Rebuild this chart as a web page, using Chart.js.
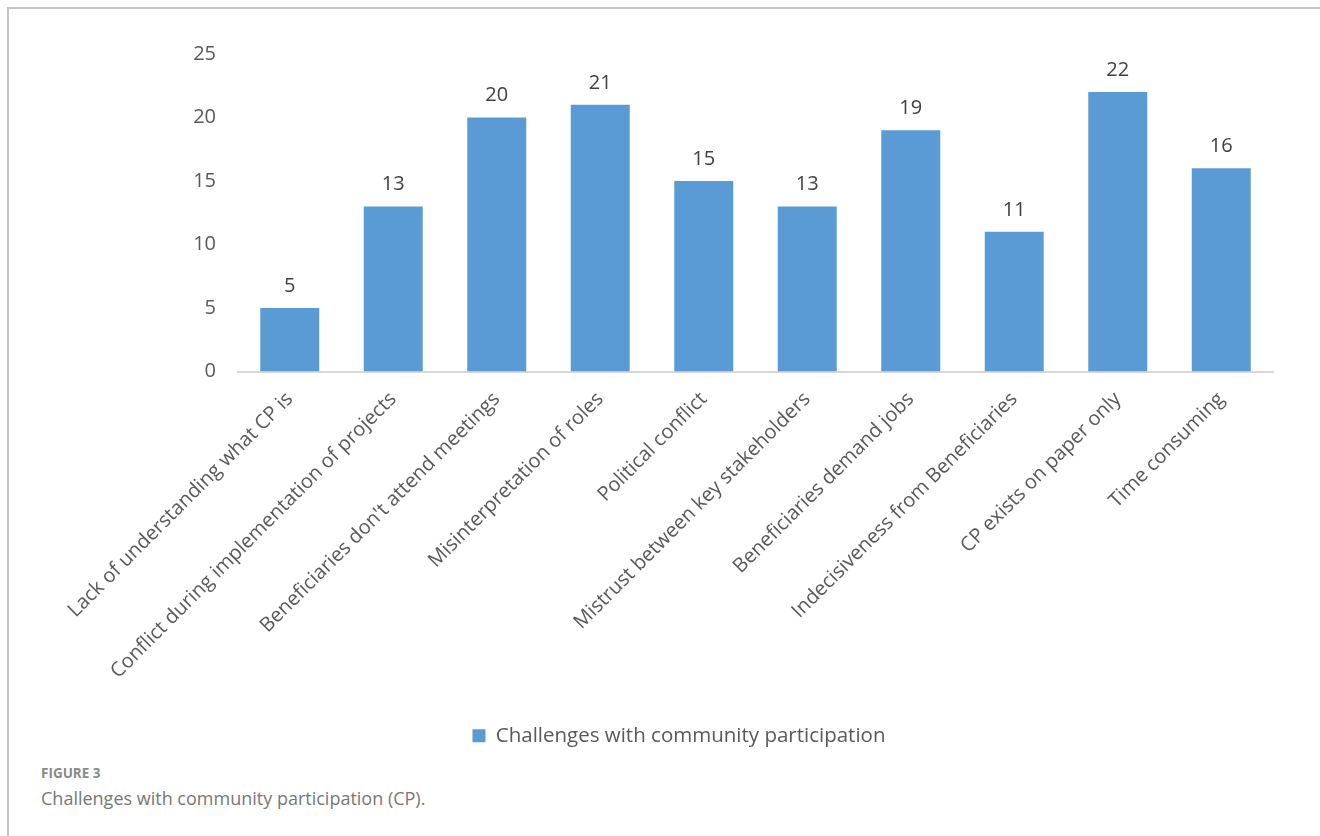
<!DOCTYPE html>
<html>
<head>
<meta charset="utf-8">
<script src="https://cdn.jsdelivr.net/npm/chart.js@4.4.0/dist/chart.umd.min.js"></script>
<style>
  html, body { margin: 0; padding: 0; background: #fff; }
  body { width: 1320px; height: 836px; overflow: hidden; position: relative; }
  .frame {
    position: absolute; left: 7px; top: 7px; width: 1320px; height: 840px;
    border-left: 2px solid #c4c4c4; border-top: 2px solid #c4c4c4;
  }
  .chart-box { position: absolute; left: 9px; top: 9px; width: 1311px; height: 750px; }
  .fig-num {
    position: absolute; left: 41px; top: 764px;
    font-family: "Open Sans", Lato, sans-serif; font-size: 13.5px; font-weight: bold;
    color: #8a8a8a;
  }
  .fig-cap {
    position: absolute; left: 41px; top: 786px;
    font-family: "Open Sans", Lato, sans-serif; font-size: 18px; color: #777;
  }
</style>
</head>
<body>
<div class="frame"></div>
<div class="chart-box"><canvas id="chart"></canvas></div>
<div class="fig-num">FIGURE 3</div>
<div class="fig-cap">Challenges with community participation (CP).</div>
<script>
// Данные графика
const categories = [
  'Lack of understanding what CP is',
  'Conflict during implementation of projects',
  "Beneficiaries don't attend meetings",
  'Misinterpretation of roles',
  'Political conflict',
  'Mistrust between key stakeholders',
  'Beneficiaries demand jobs',
  'Indecisiveness from Beneficiaries',
  'CP exists on paper only',
  'Time consuming'
];
const values = [5, 13, 20, 21, 15, 13, 19, 11, 22, 16];
const seriesName = 'Challenges with community participation';
const yTicks = [0, 5, 10, 15, 20, 25];

const fontName = '"Open Sans", Lato, sans-serif';

// Подписи значений над столбцами
const valueLabels = {
  id: 'valueLabels',
  afterDatasetsDraw(chart) {
    const ctx = chart.ctx;
    const meta = chart.getDatasetMeta(0);
    ctx.save();
    ctx.font = '20px ' + fontName;
    ctx.fillStyle = '#404040';
    ctx.textAlign = 'center';
    ctx.textBaseline = 'bottom';
    meta.data.forEach((bar, i) => {
      ctx.fillText(values[i], bar.x, bar.y - 12);
    });
    ctx.restore();
  }
};

let canvas = document.getElementById('chart');
new Chart(canvas.getContext('2d'), {
  type: 'bar',
  data: {
    labels: categories,
    datasets: [{
      label: seriesName,
      data: values,
      backgroundColor: '#5b9bd5',
      borderWidth: 0,
      categoryPercentage: 1,
      barPercentage: 0.57
    }]
  },
  options: {
    responsive: true,
    maintainAspectRatio: false,
    animation: false,
    layout: { padding: { left: 76, right: 47, top: 45, bottom: 3 } },
    plugins: {
      tooltip: { enabled: false },
      legend: {
        position: 'bottom',
        labels: {
          font: { family: fontName, size: 20.5 },
          color: '#595959',
          boxWidth: 13,
          boxHeight: 13,
          padding: 10
        }
      }
    },
    scales: {
      x: {
        grid: { display: false },
        border: { color: '#d9d9d9', width: 2 },
        ticks: {
          color: '#595959',
          font: { family: fontName, size: 20 },
          minRotation: 45,
          maxRotation: 45,
          autoSkip: false,
          padding: 8
        },
        afterFit: s => { s.height = 344; }
      },
      y: {
        min: 0,
        max: 25,
        afterBuildTicks: s => { s.ticks = yTicks.map(v => ({ value: v })); },
        grid: { display: false },
        border: { display: false },
        ticks: {
          color: '#595959',
          font: { family: fontName, size: 20 },
          padding: 14
        },
        afterFit: s => { s.width = 153; }
      }
    }
  },
  plugins: [valueLabels]
});
</script>
</body>
</html>
